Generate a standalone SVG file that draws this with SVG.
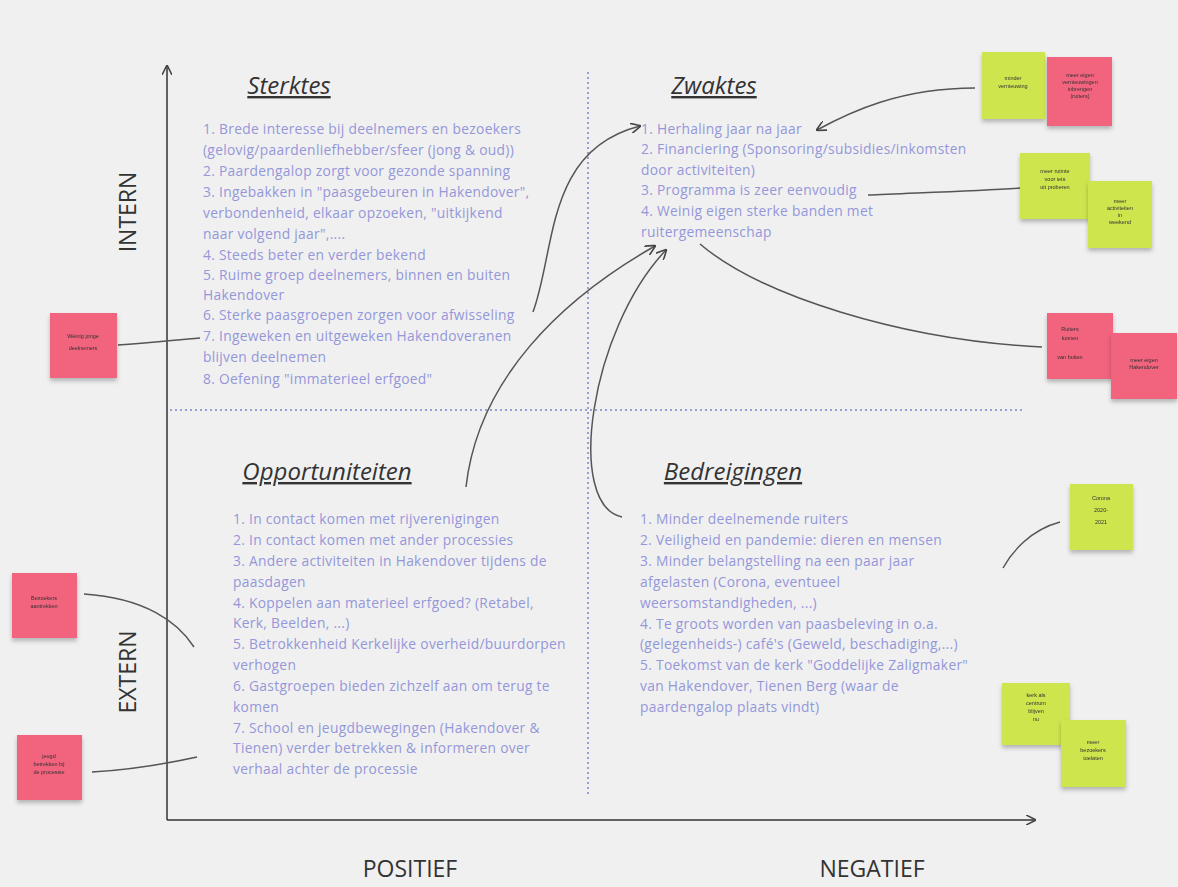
<svg xmlns="http://www.w3.org/2000/svg" width="1178" height="887" viewBox="0 0 1178 887">
<style>
.bg{fill:#f0f0f0}
.axis{stroke:#333;stroke-width:1.5;fill:none}
.dot{stroke:#7b84c9;stroke-width:1.5;stroke-dasharray:2 3;fill:none}
.title{font-family:"Open Sans","Liberation Sans",sans-serif;font-size:24px;font-style:italic;text-decoration:underline;fill:#333;text-anchor:middle}
.lab{font-family:"Open Sans","Liberation Sans",sans-serif;font-size:23px;fill:#333;text-anchor:middle}
.body{font-family:"Open Sans","Liberation Sans",sans-serif;font-size:13.8px;letter-spacing:0.3px;fill:#9497da}
.con{stroke:#555;stroke-width:1.5;fill:none}
.g{fill:#cfe54d}
.p{fill:#f2637e}
.note{filter:url(#sh)}
.nt{font-family:"Liberation Sans",sans-serif;font-size:5.5px;fill:#333;text-anchor:middle}
</style>
<defs>
<filter id="sh" x="-20%" y="-20%" width="140%" height="150%"><feDropShadow dx="0" dy="3" stdDeviation="2" flood-color="#000" flood-opacity="0.25"/></filter>
<marker id="ah" viewBox="0 0 10 10" refX="9" refY="5" markerWidth="7" markerHeight="7" orient="auto-start-reverse"><path d="M0,0 L10,5 L0,10" fill="none" stroke="#444" stroke-width="1.5"/></marker>
</defs>
<rect class="bg" x="0" y="0" width="1178" height="887"/>
<g id="axes">
<line class="axis" x1="167" y1="820" x2="167" y2="66" marker-end="url(#ah)"/>
<line class="axis" x1="167" y1="820" x2="1035" y2="820" marker-end="url(#ah)"/>
<line class="dot" x1="588" y1="72" x2="588" y2="795"/>
<line class="dot" x1="170" y1="410" x2="1025" y2="410"/>
<text class="lab" transform="translate(136 212) rotate(-90)">INTERN</text>
<text class="lab" transform="translate(136 672) rotate(-90)">EXTERN</text>
<text class="lab" x="410" y="877">POSITIEF</text>
<text class="lab" x="872" y="877">NEGATIEF</text>
</g>
<g id="sterktes">
<text class="title" x="289" y="94">Sterktes</text>
<text class="body" x="203" y="134">1. Brede interesse bij deelnemers en bezoekers</text>
<text class="body" x="203" y="155">(gelovig/paardenliefhebber/sfeer (jong &amp; oud))</text>
<text class="body" x="203" y="176">2. Paardengalop zorgt voor gezonde spanning</text>
<text class="body" x="203" y="197">3. Ingebakken in "paasgebeuren in Hakendover",</text>
<text class="body" x="203" y="218">verbondenheid, elkaar opzoeken, "uitkijkend</text>
<text class="body" x="203" y="239">naar volgend jaar",....</text>
<text class="body" x="203" y="260">4. Steeds beter en verder bekend</text>
<text class="body" x="203" y="280">5. Ruime groep deelnemers, binnen en buiten</text>
<text class="body" x="203" y="300">Hakendover</text>
<text class="body" x="203" y="320">6. Sterke paasgroepen zorgen voor afwisseling</text>
<text class="body" x="203" y="341">7. Ingeweken en uitgeweken Hakendoveranen</text>
<text class="body" x="203" y="362">blijven deelnemen</text>
<text class="body" x="203" y="384">8. Oefening "immaterieel erfgoed"</text>
</g>
<g id="zwaktes">
<text class="title" x="714" y="94">Zwaktes</text>
<text class="body" x="641" y="134">1. Herhaling jaar na jaar</text>
<text class="body" x="641" y="154">2. Financiering (Sponsoring/subsidies/inkomsten</text>
<text class="body" x="641" y="175">door activiteiten)</text>
<text class="body" x="641" y="195">3. Programma is zeer eenvoudig</text>
<text class="body" x="641" y="216">4. Weinig eigen sterke banden met</text>
<text class="body" x="641" y="237">ruitergemeenschap</text>
</g>
<g id="opportuniteiten">
<text class="title" x="327" y="480">Opportuniteiten</text>
<text class="body" x="233" y="524">1. In contact komen met rijverenigingen</text>
<text class="body" x="233" y="545">2. In contact komen met ander processies</text>
<text class="body" x="233" y="566">3. Andere activiteiten in Hakendover tijdens de</text>
<text class="body" x="233" y="587">paasdagen</text>
<text class="body" x="233" y="608">4. Koppelen aan materieel erfgoed?  (Retabel,</text>
<text class="body" x="233" y="628">Kerk, Beelden, ...)</text>
<text class="body" x="233" y="649">5. Betrokkenheid Kerkelijke overheid/buurdorpen</text>
<text class="body" x="233" y="670">verhogen</text>
<text class="body" x="233" y="691">6. Gastgroepen bieden zichzelf aan om terug te</text>
<text class="body" x="233" y="712">komen</text>
<text class="body" x="233" y="733">7. School en jeugdbewegingen (Hakendover &amp;</text>
<text class="body" x="233" y="753">Tienen) verder betrekken &amp; informeren over</text>
<text class="body" x="233" y="774">verhaal achter de processie</text>
</g>
<g id="bedreigingen">
<text class="title" x="733" y="480">Bedreigingen</text>
<text class="body" x="640" y="524">1. Minder deelnemende ruiters</text>
<text class="body" x="640" y="545">2. Veiligheid en pandemie: dieren en mensen</text>
<text class="body" x="640" y="566">3. Minder belangstelling na een paar jaar</text>
<text class="body" x="640" y="587">afgelasten (Corona, eventueel</text>
<text class="body" x="640" y="608">weersomstandigheden, ...)</text>
<text class="body" x="640" y="629">4. Te groots worden van paasbeleving in o.a.</text>
<text class="body" x="640" y="649">(gelegenheids-) café's (Geweld, beschadiging,...)</text>
<text class="body" x="640" y="670">5. Toekomst van de kerk "Goddelijke Zaligmaker"</text>
<text class="body" x="640" y="691">van Hakendover, Tienen Berg (waar de</text>
<text class="body" x="640" y="712">paardengalop plaats vindt)</text>
</g>
<g id="connectors">
<path class="con" d="M975 88 C900 88 850 112 817 130" marker-end="url(#ah)"/>
<path class="con" d="M1020 188 C975 191 910 193 868 195"/>
<path class="con" d="M1042 347 C900 340 760 295 700 244"/>
<path class="con" d="M533 312 C556 250 545 150 640 126" marker-end="url(#ah)"/>
<path class="con" d="M466 487 C478 380 560 300 655 246" marker-end="url(#ah)"/>
<path class="con" d="M622 517 C565 505 590 330 666 250" marker-end="url(#ah)"/>
<path class="con" d="M118 345 C150 343 175 340 200 338"/>
<path class="con" d="M84 594 C145 598 178 622 194 647"/>
<path class="con" d="M92 772 C130 770 165 764 197 757"/>
<path class="con" d="M1060 522 C1030 530 1012 552 1003 568"/>
</g>
<g id="note-z1" class="note"><rect class="g" x="982" y="52" width="63" height="67"/><text class="nt" x="1013" y="80">minder</text><text class="nt" x="1013" y="88">vernieuwing</text></g>
<g id="note-z2" class="note"><rect class="p" x="1047" y="57" width="65" height="69"/><text class="nt" x="1080" y="77">meer eigen</text><text class="nt" x="1080" y="84">vernieuwingen</text><text class="nt" x="1080" y="91">inbrengen</text><text class="nt" x="1080" y="98">(ruiters)</text></g>
<g id="note-z3" class="note"><rect class="g" x="1020" y="153" width="70" height="66"/><text class="nt" x="1055" y="173">meer ruimte</text><text class="nt" x="1055" y="181">voor iets</text><text class="nt" x="1055" y="189">uit proberen</text></g>
<g id="note-z4" class="note"><rect class="g" x="1088" y="181" width="64" height="67"/><text class="nt" x="1120" y="203">meer</text><text class="nt" x="1120" y="210">activiteiten</text><text class="nt" x="1120" y="217">in</text><text class="nt" x="1120" y="224">weekend</text></g>
<g id="note-z5" class="note"><rect class="p" x="1047" y="313" width="66" height="66"/><text class="nt" x="1070" y="331">Ruiters</text><text class="nt" x="1070" y="340">komen</text><text class="nt" x="1070" y="359">van buiten</text></g>
<g id="note-z6" class="note"><rect class="p" x="1111" y="333" width="66" height="66"/><text class="nt" x="1144" y="362">meer eigen</text><text class="nt" x="1144" y="369">Hakendover</text></g>
<g id="note-s1" class="note"><rect class="p" x="50" y="313" width="67" height="65"/><text class="nt" x="83" y="338">Weinig jonge</text><text class="nt" x="83" y="350">deelnemers</text></g>
<g id="note-b1" class="note"><rect class="g" x="1070" y="484" width="63" height="66"/><text class="nt" x="1101" y="500">Corona</text><text class="nt" x="1101" y="512">2020-</text><text class="nt" x="1101" y="524">2021</text></g>
<g id="note-b2" class="note"><rect class="g" x="1002" y="683" width="68" height="62"/><text class="nt" x="1036" y="697">kerk als</text><text class="nt" x="1036" y="705">centrum</text><text class="nt" x="1036" y="713">blijven</text><text class="nt" x="1036" y="721">nu</text></g>
<g id="note-b3" class="note"><rect class="g" x="1061" y="720" width="65" height="67"/><text class="nt" x="1093" y="744">meer</text><text class="nt" x="1093" y="752">bezoekers</text><text class="nt" x="1093" y="760">toelaten</text></g>
<g id="note-o1" class="note"><rect class="p" x="12" y="573" width="65" height="65"/><text class="nt" x="44" y="600">Bezoekers</text><text class="nt" x="44" y="608">aantrekken</text></g>
<g id="note-o2" class="note"><rect class="p" x="17" y="735" width="65" height="65"/><text class="nt" x="49" y="758">jeugd</text><text class="nt" x="49" y="766">betrekken bij</text><text class="nt" x="49" y="774">de processie</text></g>
</svg>
